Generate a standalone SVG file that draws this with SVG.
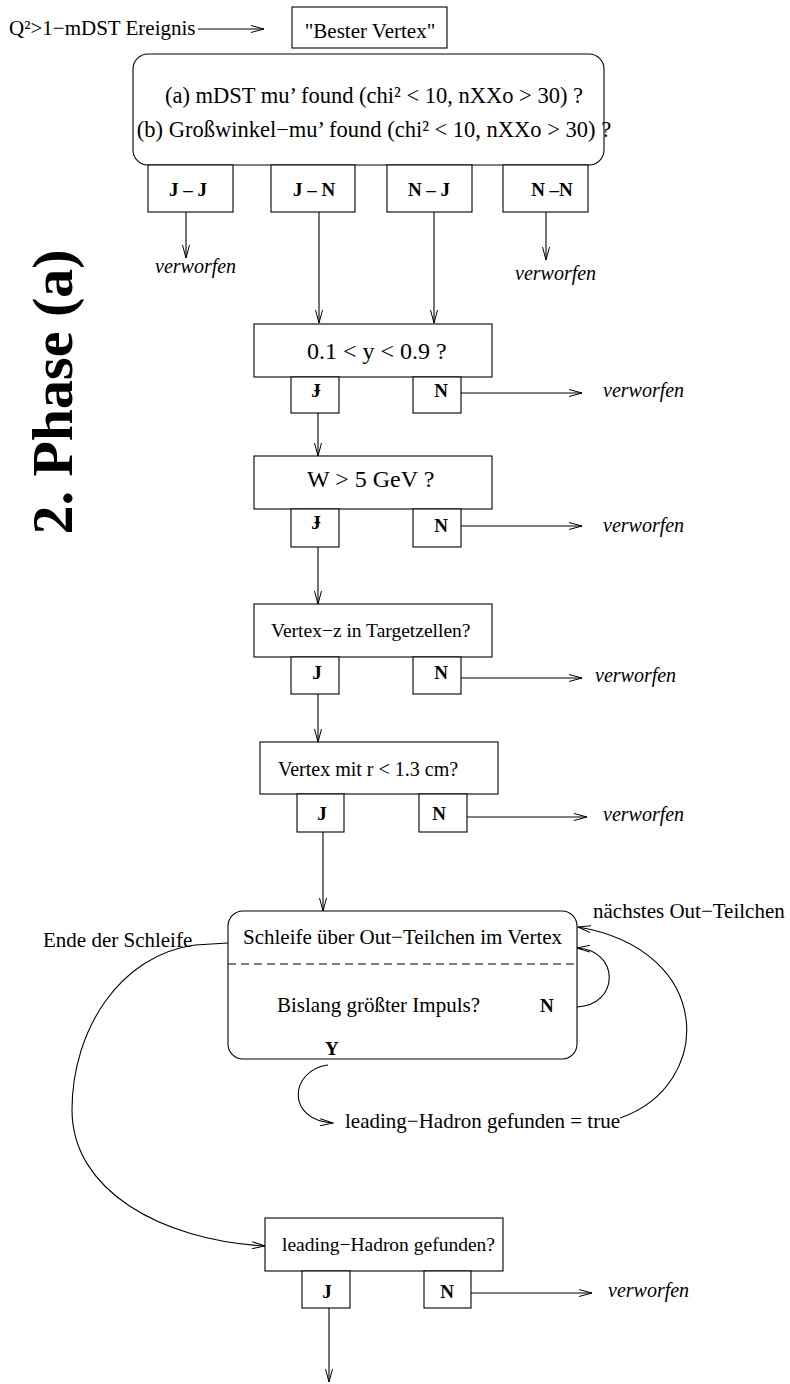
<svg xmlns="http://www.w3.org/2000/svg" width="790" height="1384" viewBox="0 0 790 1384">
<defs>
<marker id="ah" viewBox="0 0 14 8" refX="13" refY="4" markerWidth="14" markerHeight="8" markerUnits="userSpaceOnUse" orient="auto">
<path d="M0,0.5 L13,4 L0,7.5" fill="none" stroke="#000" stroke-width="1"/>
</marker>
</defs>
<style>
.bx{fill:#fff;stroke:#000;stroke-width:1.1}
.ln{fill:none;stroke:#000;stroke-width:1.1}
.ar{fill:none;stroke:#000;stroke-width:1.1;marker-end:url(#ah)}
text{font-family:"Liberation Serif","Times New Roman",serif;fill:#000}
.t21{font-size:21px}
.t22{font-size:22.5px}
.t24{font-size:24px}
.t19{font-size:19.5px}
.lb{font-size:19px;font-weight:bold}
.vw{font-size:20px;font-style:italic}
.mid{text-anchor:middle}
</style>
<rect width="790" height="1384" fill="#fff"/>

<g id="title">
<text transform="translate(72,392) rotate(-90)" class="mid" style="font-size:58px;font-weight:bold">2. Phase (a)</text>
</g>

<g id="connectors">
<line class="ar" x1="198" y1="29" x2="264" y2="29"/>
<line class="ar" x1="186" y1="212" x2="186" y2="258"/>
<line class="ar" x1="546" y1="212" x2="546" y2="260"/>
<line class="ar" x1="319" y1="212" x2="319" y2="323"/>
<line class="ar" x1="434" y1="212" x2="434" y2="323"/>
<line class="ar" x1="461" y1="393" x2="582" y2="393"/>
<line class="ar" x1="318" y1="413" x2="318" y2="456"/>
<line class="ar" x1="461" y1="526" x2="582" y2="526"/>
<line class="ar" x1="318" y1="547" x2="318" y2="604"/>
<line class="ar" x1="461" y1="678" x2="582" y2="678"/>
<line class="ar" x1="318" y1="694" x2="318" y2="742"/>
<line class="ar" x1="467" y1="817" x2="587" y2="817"/>
<line class="ar" x1="323" y1="832" x2="323" y2="911"/>
<path class="ar" d="M228,943 L195,945 C120,955 72,1030 72,1110 C72,1190 160,1240 265,1246"/>
<path class="ar" d="M577,1007 C620,1005 620,950 577,948"/>
<path class="ar" d="M620,1118 C715,1085 715,950 578,927"/>
<path class="ar" d="M328,1065 C290,1070 285,1120 333,1123"/>
<line class="ar" x1="471" y1="1293" x2="592" y2="1293"/>
<line class="ar" x1="329" y1="1308" x2="329" y2="1382"/>
</g>

<g id="start">
<text class="t21" x="9" y="35">Q²&gt;1−mDST Ereignis</text>
</g>

<g id="bester-vertex">
<rect class="bx" x="292" y="7" width="155" height="41"/>
<text class="t21 mid" x="370" y="38">"Bester Vertex"</text>
</g>

<g id="mu-check">
<rect class="bx" x="133" y="54" width="471" height="111" rx="15" ry="15"/>
<text class="t22 mid" x="374" y="103">(a) mDST mu’ found (chi² &lt; 10, nXXo &gt; 30) ?</text>
<text class="t22 mid" x="374" y="137">(b) Großwinkel−mu’ found (chi² &lt; 10, nXXo &gt; 30) ?</text>
</g>

<g id="jj">
<rect class="bx" x="148" y="165" width="85" height="47"/>
<text class="lb mid" x="188" y="196">J – J</text>
<text class="vw" x="155" y="273">verworfen</text>
</g>
<g id="jn">
<rect class="bx" x="271" y="165" width="84" height="47"/>
<text class="lb mid" x="314" y="196">J – N</text>
</g>
<g id="nj">
<rect class="bx" x="387" y="165" width="85" height="47"/>
<text class="lb mid" x="429" y="196">N – J</text>
</g>
<g id="nn">
<rect class="bx" x="503" y="165" width="85" height="47"/>
<text class="lb mid" x="552" y="196">N –N</text>
<text class="vw" x="515" y="280">verworfen</text>
</g>

<g id="y-check">
<rect class="bx" x="254" y="324" width="238" height="53"/>
<text class="t24" x="307" y="359">0.1 &lt; y &lt; 0.9 ?</text>
<rect class="bx" x="291" y="377" width="48" height="36"/>
<text class="lb mid" x="316" y="397">Ɉ</text>
<rect class="bx" x="413" y="377" width="48" height="36"/>
<text class="lb mid" x="441" y="397">N</text>
<text class="vw" x="603" y="397">verworfen</text>
</g>

<g id="w-check">
<rect class="bx" x="254" y="456" width="238" height="53"/>
<text class="t24" x="307" y="487">W &gt; 5 GeV ?</text>
<rect class="bx" x="291" y="509" width="48" height="38"/>
<text class="lb mid" x="316" y="529">Ɉ</text>
<rect class="bx" x="413" y="509" width="48" height="38"/>
<text class="lb mid" x="441" y="532">N</text>
<text class="vw" x="603" y="532">verworfen</text>
</g>

<g id="vertexz-check">
<rect class="bx" x="254" y="604" width="238" height="53"/>
<text class="t19" x="271" y="637">Vertex−z in Targetzellen?</text>
<rect class="bx" x="291" y="657" width="48" height="37"/>
<text class="lb mid" x="317" y="679">J</text>
<rect class="bx" x="413" y="657" width="48" height="37"/>
<text class="lb mid" x="441" y="679">N</text>
<text class="vw" x="595" y="682">verworfen</text>
</g>

<g id="vertexr-check">
<rect class="bx" x="260" y="742" width="238" height="52"/>
<text class="t21" x="278" y="776" style="font-size:20px">Vertex mit r &lt; 1.3 cm?</text>
<rect class="bx" x="297" y="794" width="47" height="38"/>
<text class="lb mid" x="322" y="820">J</text>
<rect class="bx" x="419" y="794" width="48" height="38"/>
<text class="lb mid" x="439" y="820">N</text>
<text class="vw" x="603" y="821">verworfen</text>
</g>

<g id="loop">
<rect class="bx" x="228" y="911" width="349" height="148" rx="15" ry="15"/>
<text class="t21" x="243" y="944">Schleife über Out−Teilchen im Vertex</text>
<line x1="228" y1="964" x2="577" y2="964" stroke="#000" stroke-width="1" stroke-dasharray="8,5"/>
<text class="t21" x="277" y="1012">Bislang größter Impuls?</text>
<text class="lb" x="540" y="1012">N</text>
<text class="lb" x="325" y="1055">Y</text>
</g>

<g id="loop-labels">
<text class="t21" x="43" y="947">Ende der Schleife</text>
<text class="t21" x="593" y="918">nächstes Out−Teilchen</text>
<text class="t21" x="345" y="1128">leading−Hadron gefunden = true</text>
</g>

<g id="lh-check">
<rect class="bx" x="265" y="1218" width="238" height="53"/>
<text class="t19" x="282" y="1251">leading−Hadron gefunden?</text>
<rect class="bx" x="302" y="1271" width="48" height="37"/>
<text class="lb mid" x="327" y="1298">J</text>
<rect class="bx" x="424" y="1271" width="47" height="37"/>
<text class="lb mid" x="447" y="1298">N</text>
<text class="vw" x="608" y="1297">verworfen</text>
</g>
</svg>
